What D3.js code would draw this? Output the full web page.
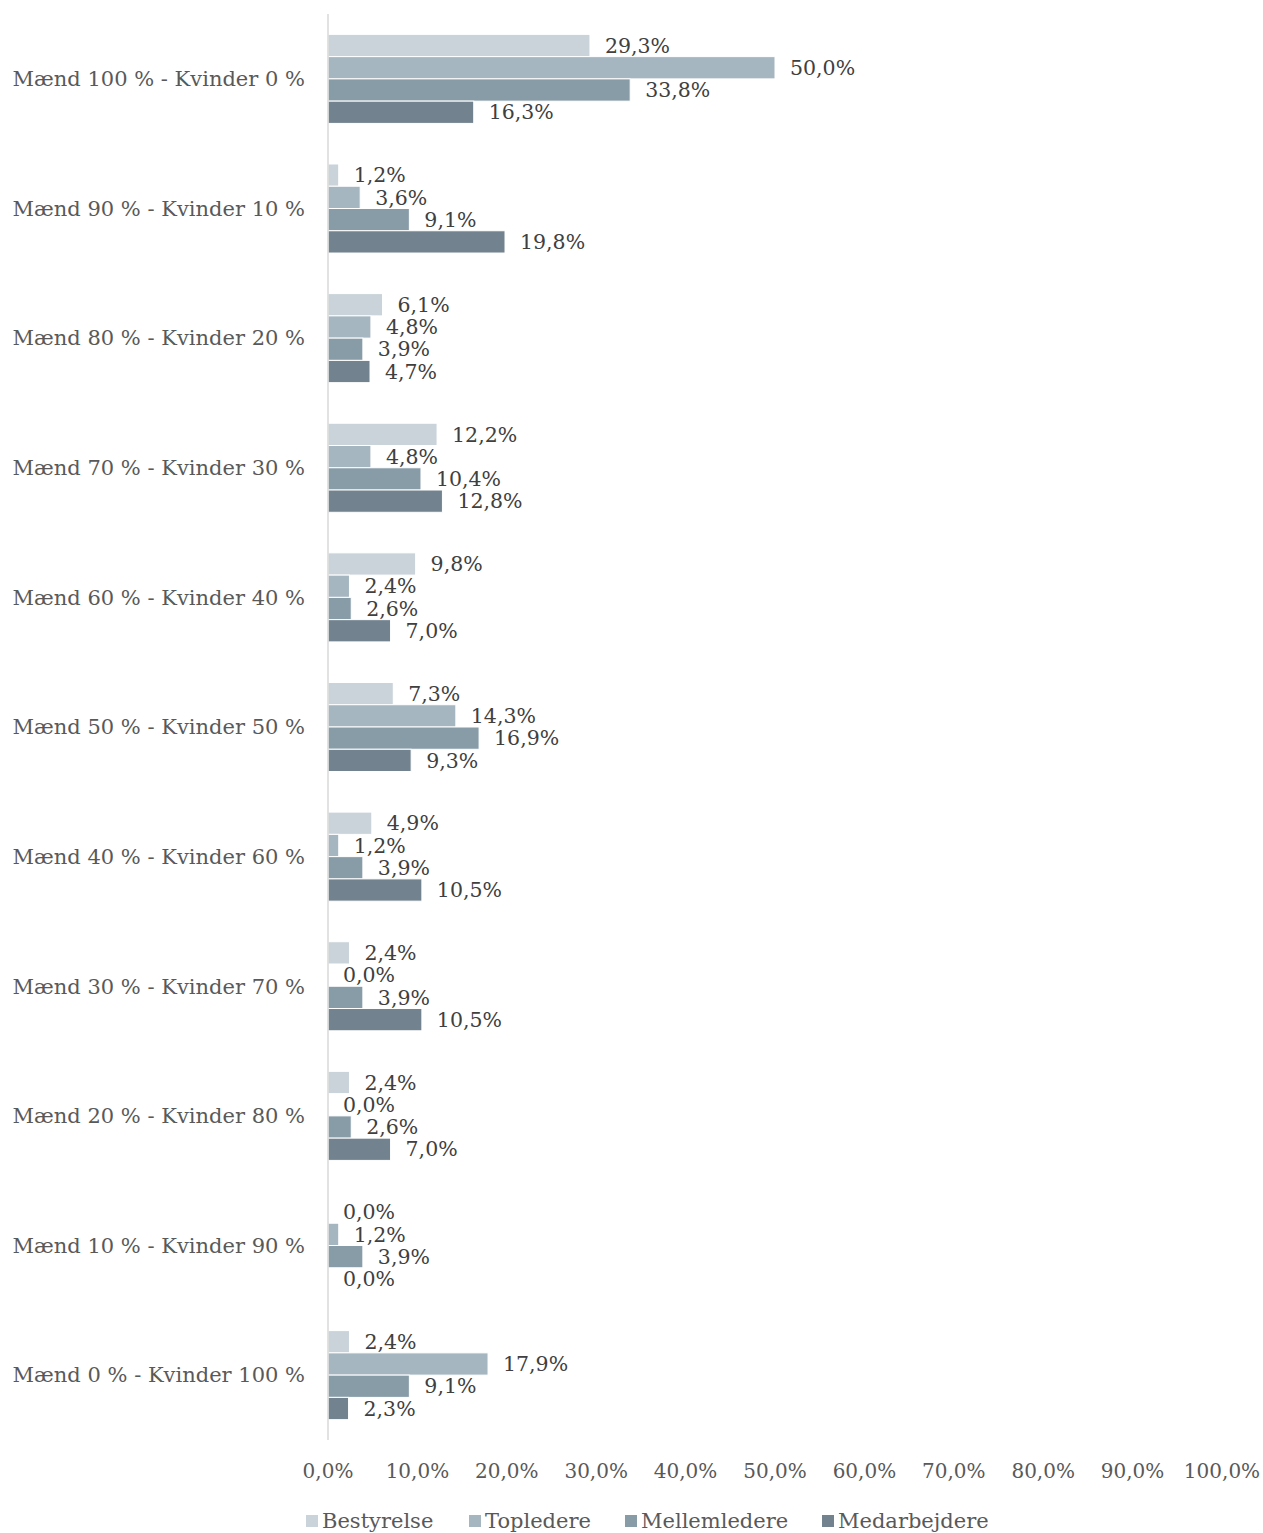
<!DOCTYPE html>
<html>
<head>
<meta charset="utf-8">
<script src="https://cdn.jsdelivr.net/npm/d3@7"></script>
<style>
  body { margin: 0; background: #fff; }
  text { font-family: "DejaVu Serif", "Liberation Serif", serif; }
</style>
</head>
<body>
<svg id="chart"></svg>
<script>
const width = 1263;
const height = 1533;

// categories top to bottom
const categories = [
  "Mænd 100 % - Kvinder 0 %",
  "Mænd 90 % - Kvinder 10 %",
  "Mænd 80 % - Kvinder 20 %",
  "Mænd 70 % - Kvinder 30 %",
  "Mænd 60 % - Kvinder 40 %",
  "Mænd 50 % - Kvinder 50 %",
  "Mænd 40 % - Kvinder 60 %",
  "Mænd 30 % - Kvinder 70 %",
  "Mænd 20 % - Kvinder 80 %",
  "Mænd 10 % - Kvinder 90 %",
  "Mænd 0 % - Kvinder 100 %"
];
const seriesNames = ["Bestyrelse", "Topledere", "Mellemledere", "Medarbejdere"];
const bestyrelse   = [29.3, 1.2, 6.1, 12.2, 9.8, 7.3, 4.9, 2.4, 2.4, 0.0, 2.4];
const topledere    = [50.0, 3.6, 4.8, 4.8, 2.4, 14.3, 1.2, 0.0, 0.0, 1.2, 17.9];
const mellemledere = [33.8, 9.1, 3.9, 10.4, 2.6, 16.9, 3.9, 3.9, 2.6, 3.9, 9.1];
const medarbejdere = [16.3, 19.8, 4.7, 12.8, 7.0, 9.3, 10.5, 10.5, 7.0, 0.0, 2.3];
const tickValues = [0, 10, 20, 30, 40, 50, 60, 70, 80, 90, 100];

const seriesValues = [bestyrelse, topledere, mellemledere, medarbejdere];
const colors = ["#c9d3d9", "#a6b6c1", "#889ca8", "#72838f"];

const fmt = v => d3.format(".1f")(v).replace(".", ",");

const margin = {top: 14, left: 328, right: 41, bottom: 93};

const svg = d3.select("#chart")
  .attr("width", width)
  .attr("height", height);

const x = d3.scaleLinear()
  .domain([0, 100])
  .range([margin.left, width - margin.right]);

const y = d3.scaleBand()
  .domain(categories)
  .range([margin.top, height - margin.bottom])
  .paddingInner(0.313)
  .paddingOuter(0.157);

const ySub = d3.scaleBand()
  .domain(seriesNames)
  .range([0, y.bandwidth()]);

const groups = svg.append("g")
  .selectAll("g")
  .data(categories)
  .join("g")
  .attr("transform", d => `translate(0,${y(d)})`);

groups.selectAll("rect")
  .data((d, i) => seriesNames.map((s, j) => ({s, j, v: seriesValues[j][i]})))
  .join("rect")
  .attr("x", x(0))
  .attr("y", d => ySub(d.s))
  .attr("width", d => x(d.v) - x(0))
  .attr("height", ySub.bandwidth())
  .attr("fill", d => colors[d.j])
  .attr("stroke", "#fff")
  .attr("stroke-width", 1);

groups.selectAll("text.val")
  .data((d, i) => seriesNames.map((s, j) => ({s, j, v: seriesValues[j][i]})))
  .join("text")
  .attr("class", "val")
  .attr("x", d => x(d.v) + 15)
  .attr("y", d => ySub(d.s) + ySub.bandwidth() / 2)
  .attr("dy", "0.35em")
  .attr("font-size", 20.5)
  .attr("fill", "#404040")
  .text(d => fmt(d.v) + "%");

// vertical axis line
svg.append("line")
  .attr("x1", x(0)).attr("x2", x(0))
  .attr("y1", margin.top).attr("y2", height - margin.bottom)
  .attr("stroke", "#d9d9d9")
  .attr("stroke-width", 1.5);

// category labels
svg.append("g")
  .selectAll("text")
  .data(categories)
  .join("text")
  .attr("x", 305)
  .attr("y", d => y(d) + y.bandwidth() / 2)
  .attr("dy", "0.35em")
  .attr("text-anchor", "end")
  .attr("font-size", 21)
  .attr("fill", "#595959")
  .text(d => d);

// x tick labels
svg.append("g")
  .selectAll("text")
  .data(tickValues)
  .join("text")
  .attr("x", d => x(d))
  .attr("y", 1471)
  .attr("dy", "0.35em")
  .attr("text-anchor", "middle")
  .attr("font-size", 20)
  .attr("fill", "#595959")
  .text(d => fmt(d) + "%");

// legend
const legendX = [306, 469, 625, 822];
const legend = svg.append("g")
  .selectAll("g")
  .data(seriesNames)
  .join("g")
  .attr("transform", (d, i) => `translate(${legendX[i]},1521)`);

legend.append("rect")
  .attr("x", 0).attr("y", -6)
  .attr("width", 12).attr("height", 12)
  .attr("fill", (d, i) => colors[i]);

legend.append("text")
  .attr("x", 16)
  .attr("dy", "0.35em")
  .attr("font-size", 21)
  .attr("fill", "#595959")
  .text(d => d);
</script>
</body>
</html>
